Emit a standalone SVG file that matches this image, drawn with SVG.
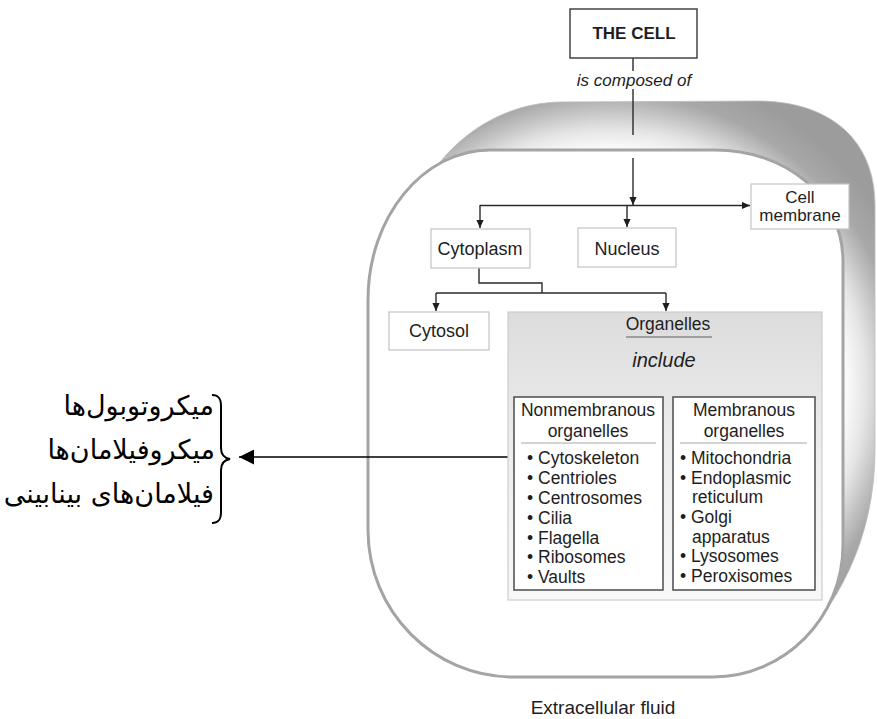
<svg xmlns="http://www.w3.org/2000/svg" width="877" height="719" viewBox="0 0 877 719">
<style>
  text { font-family: "Liberation Sans", Arial, sans-serif; fill: #1e1e1e; }
  .lbl { font-size: 18px; text-anchor: middle; }
  .lst { font-size: 17.5px; }
  .hd { font-size: 17.5px; text-anchor: middle; }
  .fa { font-family: "DejaVu Sans", sans-serif; font-size: 27px; text-anchor: end; fill: #000; }
  .lbox { fill: #fff; stroke: #c4c4c4; stroke-width: 1.2; }
  .dbox { fill: #fff; stroke: #555; stroke-width: 1.6; }
  .sep { stroke: #a8a8a8; stroke-width: 1.2; }
  .ln { fill: none; stroke: #2a2a2a; stroke-width: 1.4; }
</style>
<defs>
  <marker id="ah" viewBox="0 0 10 10" refX="10" refY="5" markerWidth="10" markerHeight="8" markerUnits="userSpaceOnUse" orient="auto">
    <path d="M0,0.5 L10,5 L0,9.5 Z" fill="#1e1e1e"/>
  </marker>
  <marker id="ahBig" viewBox="0 0 10 10" refX="10" refY="5" markerWidth="17" markerHeight="15" markerUnits="userSpaceOnUse" orient="auto">
    <path d="M0,0 L10,5 L0,10 Z" fill="#000"/>
  </marker>
  <radialGradient id="band" gradientUnits="userSpaceOnUse" cx="610" cy="385" r="320">
    <stop offset="0.74" stop-color="#fafafa"/>
    <stop offset="0.80" stop-color="#e4e4e4"/>
    <stop offset="0.86" stop-color="#c2c2c2"/>
    <stop offset="0.91" stop-color="#a8a8a8"/>
    <stop offset="1" stop-color="#9c9c9c"/>
  </radialGradient>
  <linearGradient id="org" x1="0" y1="0" x2="0" y2="1">
    <stop offset="0" stop-color="#dcdcdc"/>
    <stop offset="0.5" stop-color="#eeeeee"/>
    <stop offset="1" stop-color="#f8f8f8"/>
  </linearGradient>
</defs>

<g id="cell-shape">
  <path d="M437,166 C462,133 505,103 560,102 L757,101 C830,101 875,140 875,205 L875,450 C875,540 836,610 789,653 L780,600 L450,300 Z" fill="url(#band)" stroke="#bdbdbd" stroke-width="0.8"/>
  <path d="M822,610 C813,628 803,641 791,652" fill="none" stroke="#b0b0b0" stroke-width="1"/>
  <path d="M490,150 L715,150 C785,150 843,195 843,262 L843,545 C843,618 784,677 713,677 L513,677 C433,677 368,611 368,530 L368,300 C368,217 423,150 490,150 Z" fill="#fff" stroke="#a4a4a4" stroke-width="3"/>
</g>

<g id="connectors">
  <line class="ln" x1="633" y1="58" x2="633" y2="71"/>
  <line class="ln" x1="633" y1="89" x2="633" y2="135"/>
  <line class="ln" x1="633" y1="158" x2="633" y2="205" marker-end="url(#ah)"/>
  <line class="ln" x1="480" y1="205.5" x2="750" y2="205.5" marker-end="url(#ah)"/>
  <line class="ln" x1="480" y1="205" x2="480" y2="228" marker-end="url(#ah)"/>
  <line class="ln" x1="627" y1="205" x2="627" y2="227" marker-end="url(#ah)"/>
  <polyline class="ln" points="479,268 479,283 542,283 542,293"/>
  <line class="ln" x1="436" y1="293" x2="666" y2="293"/>
  <line class="ln" x1="436" y1="293" x2="436" y2="311" marker-end="url(#ah)"/>
  <line class="ln" x1="666" y1="293" x2="666" y2="311" marker-end="url(#ah)"/>
  <line class="ln" x1="667" y1="342" x2="667" y2="350" stroke-width="1"/>
  <line class="ln" x1="667" y1="372" x2="667" y2="379" stroke-width="1"/>
  <line class="ln" x1="571" y1="379" x2="740" y2="379"/>
  <line class="ln" x1="571" y1="379" x2="571" y2="397" marker-end="url(#ah)"/>
  <line class="ln" x1="740" y1="379" x2="740" y2="397" marker-end="url(#ah)"/>
  <line x1="527" y1="457" x2="239" y2="457" stroke="#000" stroke-width="1.6" marker-end="url(#ahBig)"/>
</g>

<g id="the-cell">
  <rect x="570" y="9" width="127" height="49" fill="#fff" stroke="#444" stroke-width="1.5"/>
  <text x="634" y="39" font-size="17" font-weight="bold" text-anchor="middle">THE CELL</text>
</g>
<g id="is-composed-of">
  <text x="634" y="86" font-size="17" font-style="italic" text-anchor="middle">is composed of</text>
</g>

<g id="cell-membrane">
  <rect class="lbox" x="751" y="184" width="98" height="45"/>
  <text x="800" y="203" font-size="17" text-anchor="middle">Cell</text>
  <text x="800" y="221" font-size="17" text-anchor="middle">membrane</text>
</g>
<g id="cytoplasm">
  <rect class="lbox" x="431" y="229" width="99" height="39"/>
  <text class="lbl" x="480" y="255">Cytoplasm</text>
</g>
<g id="nucleus">
  <rect class="lbox" x="578" y="228" width="98" height="39"/>
  <text class="lbl" x="627" y="255">Nucleus</text>
</g>
<g id="cytosol">
  <rect class="lbox" x="389" y="312" width="100" height="38"/>
  <text class="lbl" x="439" y="337">Cytosol</text>
</g>

<g id="organelles">
  <rect x="508" y="312" width="314" height="288" fill="url(#org)" stroke="#cdcdcd" stroke-width="1.2"/>
  <text class="hd" x="668" y="330">Organelles</text>
  <line x1="626" y1="337" x2="712" y2="337" stroke="#8a8a8a" stroke-width="1.4"/>
  <text x="664" y="367" font-size="20" font-style="italic" text-anchor="middle">include</text>
</g>

<g id="nonmembranous">
  <rect class="dbox" x="514" y="397" width="149" height="193"/>
  <text class="hd" x="588" y="416">Nonmembranous</text>
  <text class="hd" x="588" y="437">organelles</text>
  <line class="sep" x1="521" y1="443" x2="656" y2="443"/>
  <text class="lst" x="527" y="464">• Cytoskeleton</text>
  <text class="lst" x="527" y="484">• Centrioles</text>
  <text class="lst" x="527" y="504">• Centrosomes</text>
  <text class="lst" x="527" y="524">• Cilia</text>
  <text class="lst" x="527" y="544">• Flagella</text>
  <text class="lst" x="527" y="563">• Ribosomes</text>
  <text class="lst" x="527" y="583">• Vaults</text>
</g>

<g id="membranous">
  <rect class="dbox" x="673" y="397" width="142" height="193"/>
  <text class="hd" x="744" y="416">Membranous</text>
  <text class="hd" x="744" y="437">organelles</text>
  <line class="sep" x1="680" y1="443" x2="807" y2="443"/>
  <text class="lst" x="680" y="464">• Mitochondria</text>
  <text class="lst" x="680" y="484">• Endoplasmic</text>
  <text class="lst" x="692" y="503">reticulum</text>
  <text class="lst" x="680" y="523">• Golgi</text>
  <text class="lst" x="692" y="543">apparatus</text>
  <text class="lst" x="680" y="562">• Lysosomes</text>
  <text class="lst" x="680" y="582">• Peroxisomes</text>
</g>

<g id="extracellular-fluid">
  <text x="603" y="714" font-size="19" text-anchor="middle">Extracellular fluid</text>
</g>

<g id="persian-note">
  <path d="M212,395 C219,395 221,399 221,406 L221,448 C221,455 224,458 230,459 C224,460 221,463 221,470 L221,512 C221,519 219,523 212,523" fill="none" stroke="#000" stroke-width="2"/>
  <text class="fa" x="214" y="415">میکروتوبول&#8204;ها</text>
  <text class="fa" x="215" y="459">میکروفیلامان&#8204;ها</text>
  <text class="fa" x="214" y="503">فیلامان&#8204;های بینابینی</text>
</g>
</svg>
